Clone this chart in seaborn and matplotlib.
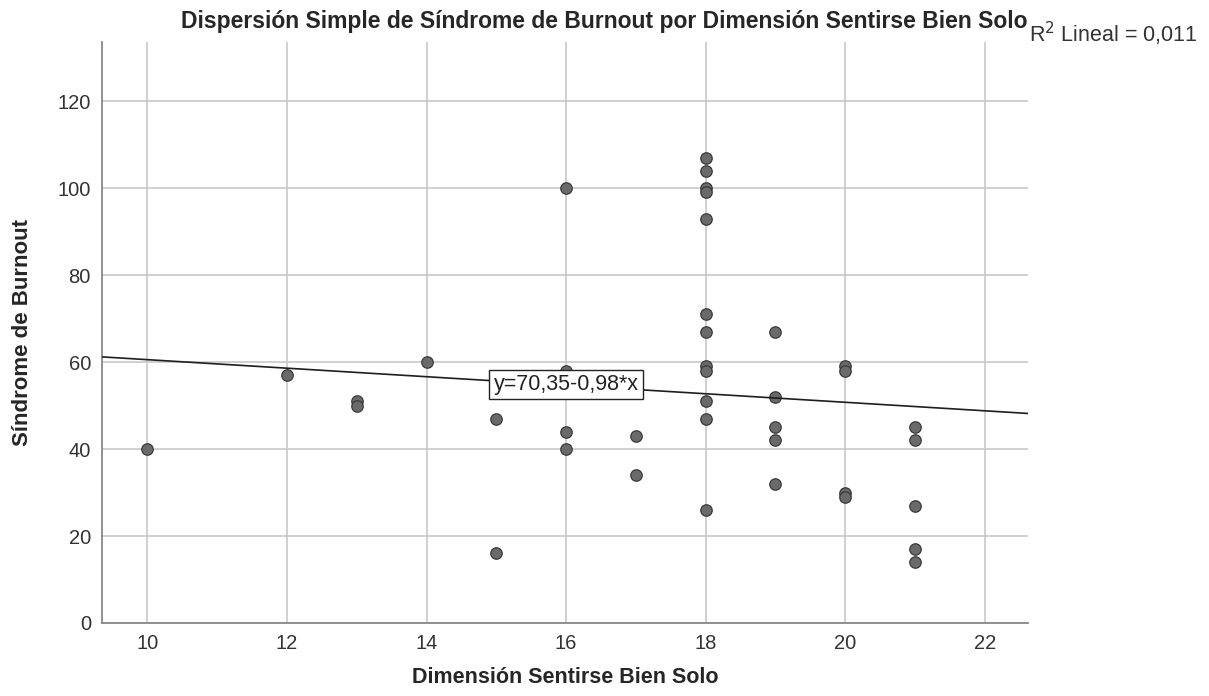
import numpy as np
import pandas as pd
import matplotlib
matplotlib.use("Agg")
import matplotlib.pyplot as plt
import seaborn as sns

# values
x_10 = [10]
y_10 = [40]
x_12 = [12]
y_12 = [57]
x_13 = [13, 13]
y_13 = [51, 50]
x_14 = [14]
y_14 = [60]
x_15 = [15, 15]
y_15 = [47, 16]
x_16 = [16, 16, 16, 16]
y_16 = [100, 58, 44, 40]
x_17 = [17, 17]
y_17 = [43, 34]
x_18 = [18] * 12
y_18 = [107, 104, 100, 99, 93, 71, 67, 59, 58, 51, 47, 26]
x_19 = [19] * 5
y_19 = [67, 52, 45, 42, 32]
x_20 = [20] * 4
y_20 = [59, 58, 30, 29]
x_21 = [21] * 5
y_21 = [45, 42, 27, 17, 14]

intercept = 70.35
slope = -0.98
r2_text = "0,011"

xs = x_10 + x_12 + x_13 + x_14 + x_15 + x_16 + x_17 + x_18 + x_19 + x_20 + x_21
ys = y_10 + y_12 + y_13 + y_14 + y_15 + y_16 + y_17 + y_18 + y_19 + y_20 + y_21
df = pd.DataFrame({"dim": xs, "burnout": ys})

sns.set_style("white")
plt.rcParams["font.family"] = ["Liberation Sans", "DejaVu Sans"]

fig = plt.figure(figsize=(12.09, 6.96), dpi=100)
ax = fig.add_axes([0.0844, 0.1049, 0.7659, 0.8348])

xlo, xhi = 9.35, 22.62
ax.set_xlim(xlo, xhi)
ax.set_ylim(0, 133.6)
ax.set_xticks(range(10, 23, 2))
ax.set_yticks(range(0, 121, 20))
ax.grid(True, color="#c8c8c8", linewidth=1.2)
ax.set_axisbelow(True)

sns.scatterplot(data=df, x="dim", y="burnout", ax=ax, s=68,
                color="#6a6a6a", edgecolor="#3a3a3a", linewidth=0.9, zorder=3)

# fitted line as printed on the chart
lx = np.array([xlo, xhi])
ax.plot(lx, intercept + slope * lx, color="#1e1e1e", linewidth=1.2, zorder=4)

ax.text(16, 54.8, "y=70,35-0,98*x", ha="center", va="center", fontsize=15.5,
        color="#222222", zorder=5,
        bbox=dict(boxstyle="square,pad=0.2", facecolor="white", edgecolor="#222222", linewidth=1))

for s in ["top", "right"]:
    ax.spines[s].set_visible(False)
for s in ["left", "bottom"]:
    ax.spines[s].set_color("#888888")
    ax.spines[s].set_linewidth(1.3)

ax.tick_params(axis="both", labelsize=14.5, labelcolor="#333333",
               length=0, left=False, bottom=False, pad=8)

ax.set_xlabel("Dimensión Sentirse Bien Solo", fontsize=15.5, fontweight="bold", labelpad=10)
ax.set_ylabel("Síndrome de Burnout", fontsize=16, fontweight="bold", labelpad=18)

fig.text(0.5, 0.969, "Dispersión Simple de Síndrome de Burnout por Dimensión Sentirse Bien Solo",
         ha="center", va="center", fontsize=16.5, fontweight="bold")
fig.text(0.851, 0.952, "R$^2$ Lineal = " + r2_text, ha="left", va="center", fontsize=15.5,
         color="#333333")

fig.savefig("out.png", dpi=100)
